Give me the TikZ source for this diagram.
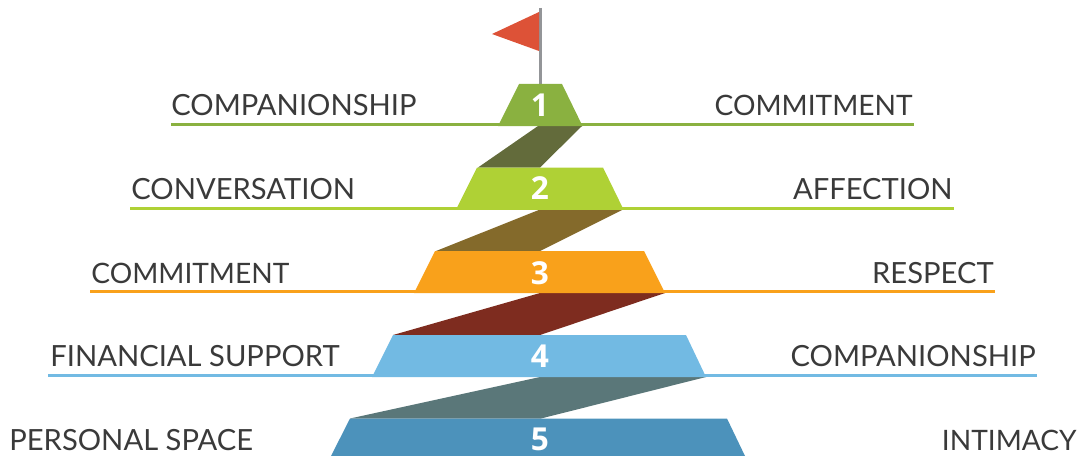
\documentclass[tikz,border=0pt]{standalone}
\usepackage{fontspec}
\usepackage{xcolor}
\setmainfont{Lato}
\newfontfamily\numfont{Open Sans}
\definecolor{flagred}{HTML}{DD5237}
\definecolor{polegray}{HTML}{939598}
\definecolor{labelgray}{HTML}{3A3A3A}
\definecolor{stepone}{HTML}{8AB140}
\definecolor{steptwo}{HTML}{AFD135}
\definecolor{stepthree}{HTML}{F9A11B}
\definecolor{stepfour}{HTML}{72BAE3}
\definecolor{stepfive}{HTML}{4C92BB}
\definecolor{rampone}{HTML}{636B3B}
\definecolor{ramptwo}{HTML}{846A2B}
\definecolor{rampthree}{HTML}{7E2C1F}
\definecolor{rampfour}{HTML}{5A7779}
\tikzset{
	leftlabel/.style={anchor=base west,inner sep=0pt,text=labelgray,font=\fontsize{16.6}{18}\selectfont},
	rightlabel/.style={anchor=base east,inner sep=0pt,text=labelgray,font=\fontsize{16.6}{18}\selectfont},
	narrowlabel/.style={font=\fontsize{16}{18}\selectfont},
	stepnum/.style={anchor=base,inner sep=0pt,text=white,font=\numfont\bfseries\fontsize{18}{20}\selectfont},
	stepline/.style={line width=1.8pt}
}
\begin{document}
\begin{tikzpicture}[x=0.02cm,y=-0.02cm]
	\useasboundingbox (0,0) rectangle (1081,456);

	\draw[polegray,line width=1.7pt] (540.5,8) -- (540.5,85);
	\fill[flagred] (492,34) -- (539,12) -- (539,51) -- cycle;

	\fill[rampone] (538,126) -- (582,126) -- (540,167.5) -- (478,167.5) -- cycle;
	\fill[ramptwo] (540,209.5) -- (623,209.5) -- (540,251) -- (436,251) -- cycle;
	\fill[rampthree] (540,293) -- (665,293) -- (540,335) -- (393,335) -- cycle;
	\fill[rampfour] (540,377) -- (706,377) -- (541,418.5) -- (350,418.5) -- cycle;

	\draw[stepone,stepline] (171,124.4) -- (914,124.4);
	\draw[steptwo,stepline] (130,208.3) -- (954,208.3);
	\draw[stepthree,stepline] (90,291.5) -- (995,291.5);
	\draw[stepfour,stepline] (48,375.5) -- (1037,375.5);

	\fill[stepone] (519,84) -- (562,84) -- (582.5,126) -- (498,126) -- cycle;
	\fill[steptwo] (477,167.5) -- (603,167.5) -- (623.5,209.5) -- (456,209.5) -- cycle;
	\fill[stepthree] (435,251) -- (644,251) -- (665,293) -- (414,293) -- cycle;
	\fill[stepfour] (393,335) -- (686,335) -- (706,377) -- (372,377) -- cycle;
	\fill[stepfive] (350,418.5) -- (727,418.5) -- (745,456) -- (331,456) -- cycle;

	\node[stepnum] (numone) at (540,116.5) {1};
	\node[stepnum] (numtwo) at (540,199.5) {2};
	\node[stepnum] (numthree) at (540,284) {3};
	\node[stepnum] (numfour) at (540,367) {4};
	\node[stepnum] (numfive) at (540,450) {5};

	\node[leftlabel] (leftone) at (171,115) {COMPANIONSHIP};
	\node[leftlabel] (lefttwo) at (131,199) {CONVERSATION};
	\node[leftlabel,narrowlabel] (leftthree) at (91,283) {COMMITMENT};
	\node[leftlabel] (leftfour) at (50,366.5) {FINANCIAL SUPPORT};
	\node[leftlabel] (leftfive) at (9,450) {PERSONAL SPACE};

	\node[rightlabel,narrowlabel] (rightone) at (913,115) {COMMITMENT};
	\node[rightlabel] (righttwo) at (953,199) {AFFECTION};
	\node[rightlabel] (rightthree) at (994,283) {RESPECT};
	\node[rightlabel] (rightfour) at (1036,366.5) {COMPANIONSHIP};
	\node[rightlabel,narrowlabel] (rightfive) at (1077,450) {INTIMACY};
\end{tikzpicture}
\end{document}
